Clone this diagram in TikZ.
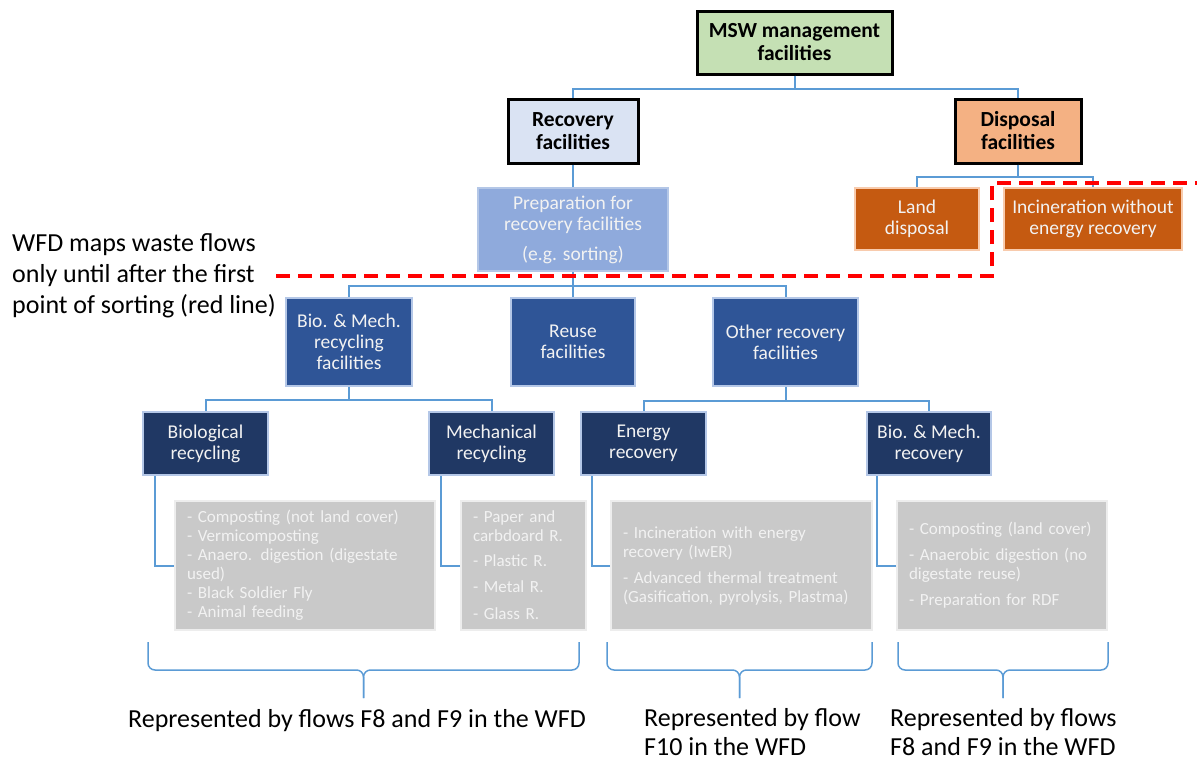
\documentclass[tikz,border=0pt]{standalone}
\usepackage{fontspec}
\setmainfont{Carlito}
\definecolor{linkblue}{RGB}{91,155,213}
\definecolor{mswgreen}{RGB}{197,224,180}
\definecolor{recovblue}{RGB}{218,227,243}
\definecolor{disporange}{RGB}{244,177,131}
\definecolor{prepblue}{RGB}{143,170,220}
\definecolor{prepedge}{RGB}{180,199,231}
\definecolor{midblue}{RGB}{47,85,151}
\definecolor{darkblue}{RGB}{32,56,100}
\definecolor{burnt}{RGB}{197,90,17}
\definecolor{burntedge}{RGB}{248,203,173}
\definecolor{boxgray}{RGB}{201,201,201}
\definecolor{grayedge}{RGB}{237,237,237}
\definecolor{softwhite}{RGB}{242,242,242}

\tikzset{
  link/.style={draw=linkblue,line width=2pt},
  topbox/.style={draw=black,line width=3pt,align=center,inner sep=0pt,
    font=\bfseries\fontsize{21.5}{23}\selectfont},
  facbox/.style={draw=prepedge,line width=2pt,align=center,inner sep=0pt,
    text=softwhite,font=\fontsize{19.5}{21}\selectfont},
  listbox/.style={draw=grayedge,line width=2pt,fill=boxgray,align=left,
    inner xsep=12pt,inner ysep=0pt,text=softwhite,
    font=\fontsize{17}{19}\selectfont},
  flowbrace/.style={draw=linkblue,line width=1.5pt,rounded corners=7pt},
  sortline/.style={draw=red,line width=3.5pt,dash pattern=on 14pt off 8pt},
  note/.style={align=left,inner sep=0pt,font=\fontsize{26}{29}\selectfont}
}

\begin{document}
\begin{tikzpicture}[x=1pt,y=-1pt]
  \useasboundingbox (0,0) rectangle (1197,763);
  % first two levels
  \node[topbox,fill=mswgreen,minimum width=195pt,minimum height=63pt] (msw)
    at (794.5,42.5) {MSW management\\facilities};
  \node[topbox,fill=recovblue,minimum width=130pt,minimum height=64pt] (recov)
    at (573,131) {Recovery\\facilities};
  \node[topbox,fill=disporange,minimum width=126pt,minimum height=64pt] (disp)
    at (1018,131) {Disposal\\facilities};
  \node[facbox,fill=prepblue,minimum width=190pt,minimum height=83pt] (prep)
    at (573,229.5) {Preparation for\\recovery facilities\\[9pt](e.g. sorting)};
  \node[facbox,fill=burnt,draw=burntedge,minimum width=124pt,minimum height=62pt] (land)
    at (917,219) {Land\\disposal};
  \node[facbox,fill=burnt,draw=burntedge,minimum width=178pt,minimum height=62pt] (incin)
    at (1093,219) {Incineration without\\energy recovery};
  % recovery branches
  \node[facbox,fill=midblue,minimum width=126pt,minimum height=88pt] (biomech)
    at (349,342) {Bio. \& Mech.\\recycling\\facilities};
  \node[facbox,fill=midblue,minimum width=124pt,minimum height=88pt] (reuse)
    at (573,342) {Reuse\\facilities};
  \node[facbox,fill=midblue,minimum width=145pt,minimum height=88pt] (other)
    at (785.5,342) {Other recovery\\facilities};
  \node[facbox,fill=darkblue,minimum width=125pt,minimum height=63pt] (bio)
    at (205.5,443.5) {Biological\\recycling};
  \node[facbox,fill=darkblue,minimum width=125pt,minimum height=63pt] (mech)
    at (491.5,443.5) {Mechanical\\recycling};
  \node[facbox,fill=darkblue,minimum width=125pt,minimum height=63pt] (energy)
    at (643.5,443.5) {Energy\\recovery};
  \node[facbox,fill=darkblue,minimum width=124pt,minimum height=63pt] (bmrec)
    at (929,443.5) {Bio. \& Mech.\\recovery};
  % lists of treatments
  \node[listbox,text width=236pt,minimum height=129pt] (gbio) at (305,565.5)
    {- Composting (not land cover)\\- Vermicomposting\\- Anaero. digestion (digestate\\used)\\- Black Soldier Fly\\- Animal feeding};
  \node[listbox,text width=101pt,minimum height=129pt] (gmech) at (523.5,565.5)
    {- Paper and\\carbdoard R.\\[6pt]- Plastic R.\\[7pt]- Metal R.\\[8pt]- Glass R.};
  \node[listbox,text width=237pt,minimum height=129pt] (genergy) at (741.5,565.5)
    {- Incineration with energy\\recovery (IwER)\\[7pt]- Advanced thermal treatment\\(Gasification, pyrolysis, Plastma)};
  \node[listbox,text width=186pt,minimum height=129pt] (gbmrec) at (1002,565.5)
    {- Composting (land cover)\\[7pt]- Anaerobic digestion (no\\digestate reuse)\\[7pt]- Preparation for RDF};
  % tree lines
  \draw[link] (msw.south) -- ++(0,13) -| (recov.north);
  \draw[link] (msw.south) -- ++(0,13) -| (disp.north);
  \draw[link] (recov.south) -- (prep.north);
  \draw[link] (disp.south) -- ++(0,12) -| (land.north);
  \draw[link] (disp.south) -- ++(0,12) -| (incin.north);
  \foreach \n in {biomech,reuse,other}
    \draw[link] (prep.south) -- ++(0,14) -| (\n.north);
  \draw[link] (biomech.south) -- ++(0,13) -| (bio.north);
  \draw[link] (biomech.south) -- ++(0,13) -| (mech.north);
  \draw[link] (other.south) -- ++(0,14) -| (energy.north);
  \draw[link] (other.south) -- ++(0,14) -| (bmrec.north);
  \draw[link] ([xshift=13pt]bio.south west) |- (gbio.west);
  \draw[link] ([xshift=13pt]mech.south west) |- (gmech.west);
  \draw[link] ([xshift=12pt]energy.south west) |- (genergy.west);
  \draw[link] ([xshift=11pt]bmrec.south west) |- (gbmrec.west);
  % first point of sorting
  \draw[sortline] (276,276) -- (992,276) -- (992,183) -- (1197,183);
  \node[note,font=\fontsize{26}{31}\selectfont] (wfdnote) at (12,276) [anchor=west]
    {WFD maps waste flows\\only until after the first\\point of sorting (red line)};
  % braces and what they stand for
  \foreach \l/\r in {148/579,607/872,898/1108}{
    \pgfmathsetmacro\m{(\l+\r)/2}
    \draw[flowbrace] (\l,642) -- (\l,670) -- (\m,670) -- (\m,698);
    \draw[flowbrace] (\r,642) -- (\r,670) -- (\m,670) -- (\m,698);
  }
  \node[note] (flowsa) at (357,721) {Represented by flows F8 and F9 in the WFD};
  \node[note,anchor=west] (flowsb) at (644,732) {Represented by flow\\F10 in the WFD};
  \node[note,anchor=west] (flowsc) at (890,732) {Represented by flows\\F8 and F9 in the WFD};
\end{tikzpicture}
\end{document}
